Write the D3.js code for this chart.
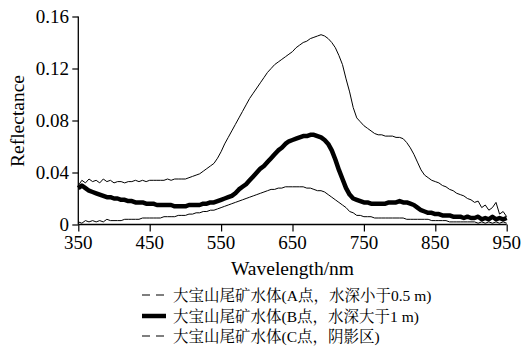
<!DOCTYPE html>
<html><head><meta charset="utf-8">
<script src="https://cdn.jsdelivr.net/npm/d3@7"></script>
<style>
html,body{margin:0;padding:0;background:#fff;}
svg{display:block;}
</style></head>
<body>
<script>
const wavelengths = d3.range(350, 951, 5);
const seriesA = [0.030,0.034,0.032,0.035,0.033,0.034,0.032,0.035,0.033,0.034,0.032,0.033,0.033,0.032,0.033,0.033,0.034,0.033,0.034,0.033,0.034,0.034,0.034,0.034,0.034,0.035,0.034,0.035,0.035,0.035,0.035,0.036,0.037,0.038,0.039,0.041,0.043,0.045,0.047,0.051,0.056,0.062,0.067,0.072,0.077,0.082,0.087,0.092,0.097,0.101,0.105,0.109,0.113,0.117,0.120,0.123,0.125,0.127,0.129,0.131,0.133,0.136,0.138,0.140,0.141,0.143,0.144,0.145,0.146,0.145,0.143,0.140,0.136,0.130,0.123,0.112,0.102,0.090,0.082,0.079,0.076,0.074,0.072,0.070,0.069,0.069,0.068,0.068,0.068,0.067,0.067,0.066,0.063,0.059,0.054,0.048,0.042,0.038,0.036,0.034,0.033,0.032,0.030,0.029,0.027,0.026,0.024,0.023,0.022,0.020,0.019,0.017,0.018,0.013,0.015,0.011,0.013,0.017,0.008,0.010,0.006];
const seriesB = [0.028,0.030,0.028,0.026,0.025,0.024,0.023,0.022,0.021,0.021,0.020,0.020,0.019,0.019,0.018,0.018,0.017,0.017,0.017,0.016,0.016,0.016,0.015,0.015,0.015,0.015,0.015,0.014,0.014,0.014,0.014,0.015,0.015,0.015,0.015,0.016,0.016,0.017,0.017,0.018,0.019,0.020,0.021,0.022,0.024,0.027,0.029,0.031,0.034,0.037,0.040,0.043,0.045,0.048,0.051,0.054,0.057,0.059,0.062,0.064,0.065,0.066,0.067,0.068,0.068,0.069,0.069,0.068,0.067,0.065,0.062,0.057,0.050,0.042,0.035,0.028,0.023,0.020,0.019,0.018,0.017,0.017,0.016,0.016,0.016,0.016,0.016,0.017,0.017,0.017,0.018,0.017,0.017,0.016,0.015,0.013,0.011,0.010,0.009,0.009,0.008,0.008,0.007,0.007,0.007,0.006,0.006,0.006,0.005,0.006,0.005,0.005,0.006,0.004,0.005,0.004,0.006,0.004,0.005,0.004,0.005];
const seriesC = [0.002,0.001,0.003,0.002,0.003,0.002,0.003,0.002,0.004,0.003,0.003,0.003,0.003,0.004,0.004,0.004,0.004,0.004,0.005,0.005,0.005,0.005,0.005,0.005,0.006,0.006,0.006,0.006,0.007,0.007,0.007,0.008,0.008,0.009,0.009,0.010,0.010,0.011,0.011,0.012,0.013,0.014,0.015,0.016,0.017,0.018,0.019,0.020,0.021,0.022,0.023,0.024,0.025,0.026,0.027,0.027,0.028,0.028,0.029,0.029,0.029,0.029,0.029,0.029,0.028,0.028,0.027,0.026,0.026,0.025,0.023,0.021,0.019,0.017,0.015,0.013,0.010,0.009,0.007,0.007,0.006,0.006,0.006,0.005,0.005,0.005,0.005,0.005,0.005,0.005,0.005,0.005,0.004,0.004,0.004,0.004,0.004,0.004,0.004,0.003,0.003,0.003,0.003,0.003,0.002,0.002,0.002,0.002,0.002,0.002,0.002,0.002,0.001,0.002,0.001,0.002,0.001,0.002,0.001,0.002,0.001];
const xTicks = [350,450,550,650,750,850,950];
const yTicks = [0,0.04,0.08,0.12,0.16];
const yTickLabels = ["0","0.04","0.08","0.12","0.16"];
const legendLabels = ["大宝山尾矿水体(A点，水深小于0.5 m)","大宝山尾矿水体(B点，水深大于1 m)","大宝山尾矿水体(C点，阴影区)"];
const xTitle = "Wavelength/nm";
const yTitle = "Reflectance";

const W = 523, H = 346;
const svg = d3.select("body").append("svg").attr("width", W).attr("height", H);
const serif = '"Liberation Serif"';
const cjk = '"Noto Serif CJK SC"';
const x = d3.scaleLinear().domain([350, 950]).range([78.3, 506.7]);
const y = d3.scaleLinear().domain([0, 0.16]).range([224.5, 16.5]);

const line = d3.line().x((d,i)=>x(wavelengths[i])).y(d=>y(d));
const legendStyles = [{w: 1.2, dash: "8,6"}, {w: 4.5, dash: null}, {w: 1.2, dash: "8,6"}];

[seriesA, seriesC].forEach(s=>{
  svg.append("path").attr("d", line(s)).attr("fill","none").attr("stroke","#000").attr("stroke-width",1).attr("stroke-linejoin","round");
});
svg.append("path").attr("d", line(seriesB)).attr("fill","none").attr("stroke","#000").attr("stroke-width",4.5).attr("stroke-linejoin","round");

// axes: lines via d3 axis, labels drawn as own text elements
const xAxis = svg.append("g").attr("transform","translate(0,224.5)")
  .call(d3.axisBottom(x).tickValues(xTicks).tickSize(7).tickFormat(""));
const yAxis = svg.append("g").attr("transform","translate(78.3,0)")
  .call(d3.axisLeft(y).tickValues(yTicks).tickSize(6).tickFormat(""));
[xAxis, yAxis].forEach(g=>{
  g.select(".domain").attr("stroke","#000").attr("stroke-width",1.3);
  g.selectAll(".tick line").attr("stroke","#000").attr("stroke-width",1.2);
});
xAxis.select(".domain").attr("d", `M${x(350)},0H${x(950)}`);
yAxis.select(".domain").attr("d", `M0,${y(0)}V${y(0.16)}`);

function addText(px, py, str, size, anchor, rot) {
  const t = svg.append("text")
    .attr("x", px).attr("y", py)
    .attr("text-anchor", anchor)
    .attr("font-size", size)
    .attr("fill", "#000");
  t.node().style.fontFamily = serif;
  if (rot) t.attr("transform", `rotate(-90,${px},${py})`);
  t.text(str);
  return t;
}
xTicks.forEach(v=>addText(x(v), 249, String(v), 19, "middle"));
yTicks.forEach((v,i)=>addText(69, y(v)+6.5, yTickLabels[i], 19, "end"));
addText(292.5, 275, xTitle, 19.5, "middle");
addText(24, 121, yTitle, 19.5, "middle", true);

const legY = [295, 316, 336];
legendLabels.forEach((t,i)=>{
  const s = legendStyles[i];
  svg.append("line").attr("x1",142).attr("x2",166).attr("y1",legY[i]).attr("y2",legY[i])
    .attr("stroke","#000").attr("stroke-width", s.w).attr("stroke-dasharray", s.dash);
  const txt = svg.append("text").attr("x",173).attr("y",legY[i]+5.5).attr("font-size",15.5).attr("fill","#000");
  const runs = t.match(/[\u3000-\u9fff\uff00-\uffef]+|[^\u3000-\u9fff\uff00-\uffef]+/g);
  runs.forEach(r=>{
    const isCjk = /[\u3000-\u9fff\uff00-\uffef]/.test(r);
    const sp = txt.append("tspan").text(r);
    sp.node().style.fontFamily = isCjk ? cjk : serif;
  });
});
</script>
</body></html>
